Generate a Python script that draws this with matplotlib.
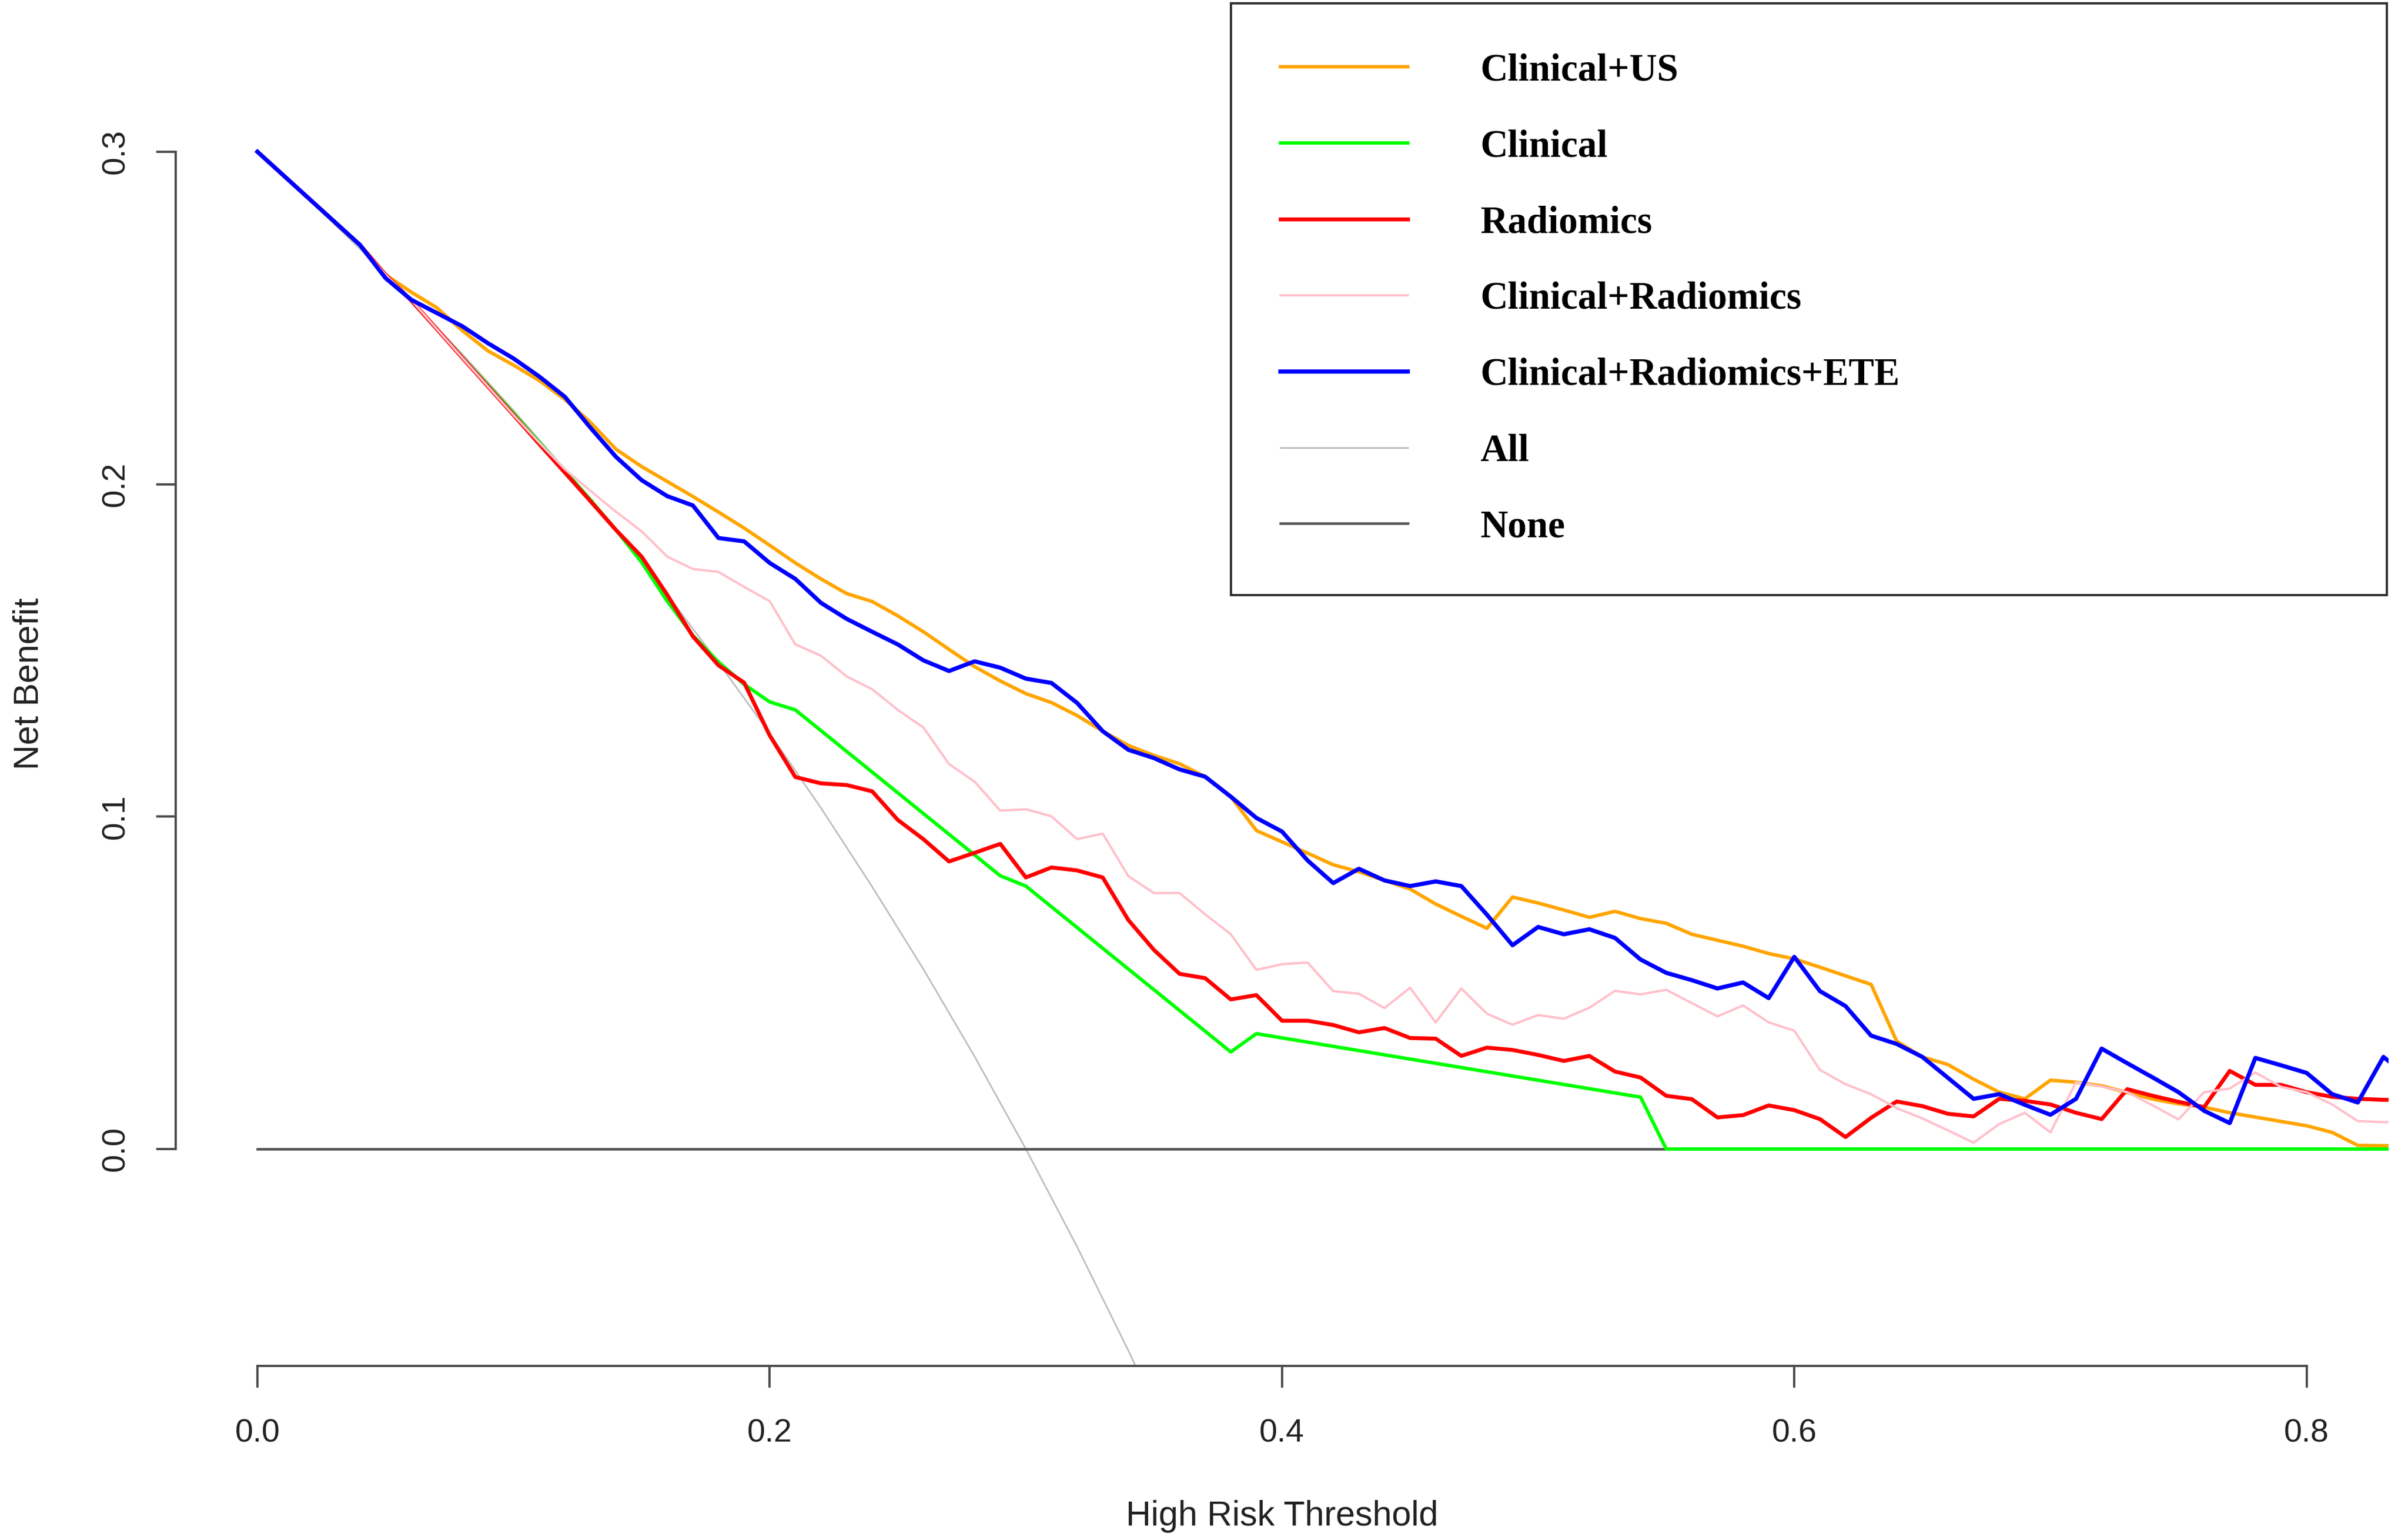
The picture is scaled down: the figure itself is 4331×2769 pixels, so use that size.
import numpy as np
import matplotlib
matplotlib.use("Agg")
import matplotlib.pyplot as plt
from matplotlib.ticker import FormatStrFormatter

"Decision curve analysis, net benefit vs high risk threshold"

plt.rcParams['font.family'] = ['Liberation Sans', 'DejaVu Sans']

# threshold grid used by the model curves (step 0.01)
thresholds = np.round(np.arange(0, 0.845, 0.01), 2)

nb_clin_us = [
    0.300, 0.293, 0.286, 0.279, 0.272, 0.263, 0.2578, 0.2531, 0.2462, 0.2401,
    0.2358, 0.2312, 0.2255, 0.2186, 0.2105, 0.2053, 0.2008, 0.1963, 0.1916, 0.1868,
    0.1816, 0.1763, 0.1715, 0.1671, 0.1647, 0.1604, 0.1556, 0.1503, 0.1451, 0.1408,
    0.1370, 0.1343, 0.1304, 0.1257, 0.1214, 0.1184, 0.1159, 0.1120, 0.1060, 0.0958,
    0.0924, 0.0890, 0.0855, 0.0834, 0.0808, 0.0782, 0.0737, 0.0700, 0.0664, 0.0758,
    0.0740, 0.0719, 0.0697, 0.0715, 0.0693, 0.0679, 0.0646, 0.0628, 0.0610, 0.0588,
    0.0572, 0.0547, 0.0521, 0.0495, 0.0324, 0.0277, 0.0254, 0.0210, 0.0171, 0.0151,
    0.0207, 0.0201, 0.0190, 0.0170, 0.0150, 0.0136, 0.0126, 0.0109, 0.0096, 0.0083,
    0.0070, 0.0050, 0.0011, 0.0010, 0.0010]

nb_radiomics = [
    0.300, 0.293, 0.286, 0.279, 0.272, 0.263, 0.2553, 0.2467, 0.2380, 0.2294,
    0.2208, 0.2121, 0.2035, 0.1949, 0.1862, 0.1782, 0.1667, 0.1542, 0.1455, 0.1403,
    0.1244, 0.1119, 0.1100, 0.1095, 0.1076, 0.0990, 0.0932, 0.0865, 0.0891, 0.0918,
    0.0817, 0.0847, 0.0838, 0.0817, 0.0689, 0.0599, 0.0527, 0.0514, 0.0450, 0.0463,
    0.0386, 0.0386, 0.0373, 0.0351, 0.0364, 0.0334, 0.0332, 0.0280, 0.0305, 0.0298,
    0.0283, 0.0265, 0.0280, 0.0233, 0.0215, 0.0160, 0.0150, 0.0095, 0.0102, 0.0131,
    0.0117, 0.0090, 0.0036, 0.0094, 0.0143, 0.0129, 0.0106, 0.0098, 0.0151, 0.0145,
    0.0134, 0.0109, 0.0090, 0.0180, 0.0160, 0.0142, 0.0126, 0.0235, 0.0193, 0.0193,
    0.0171, 0.0157, 0.0151, 0.0148, 0.0148]

nb_clin_rad = [
    0.300, 0.293, 0.286, 0.279, 0.272, 0.263, 0.2555, 0.2467, 0.2380, 0.2294,
    0.2208, 0.2125, 0.2045, 0.1980, 0.1917, 0.1858, 0.1782, 0.1745, 0.1736, 0.1691,
    0.1648, 0.1518, 0.1484, 0.1422, 0.1383, 0.1321, 0.1268, 0.1158, 0.1105, 0.1018,
    0.1022, 0.1001, 0.0932, 0.0949, 0.0821, 0.0770, 0.0770, 0.0706, 0.0646, 0.0539,
    0.0556, 0.0561, 0.0475, 0.0467, 0.0424, 0.0485, 0.0381, 0.0483, 0.0407, 0.0374,
    0.0403, 0.0392, 0.0425, 0.0476, 0.0465, 0.0479, 0.0439, 0.0399, 0.0432, 0.0381,
    0.0356, 0.0238, 0.0195, 0.0165, 0.0123, 0.0092, 0.0056, 0.0019, 0.0075, 0.0109,
    0.0050, 0.0201, 0.0188, 0.0171, 0.0131, 0.0089, 0.0171, 0.0182, 0.0230, 0.0187,
    0.0171, 0.0134, 0.0084, 0.0081, 0.0080]

nb_clin_rad_ete = [
    0.300, 0.293, 0.286, 0.279, 0.272, 0.262, 0.2555, 0.2515, 0.2475, 0.2424,
    0.2378, 0.2324, 0.2263, 0.2170, 0.2082, 0.2012, 0.1964, 0.1936, 0.1838, 0.1828,
    0.1763, 0.1715, 0.1643, 0.1595, 0.1556, 0.1518, 0.1470, 0.1438, 0.1467, 0.1448,
    0.1415, 0.1402, 0.1342, 0.1257, 0.1201, 0.1176, 0.1142, 0.1120, 0.1060, 0.0996,
    0.0955, 0.0868, 0.0800, 0.0843, 0.0808, 0.0791, 0.0805, 0.0791, 0.0705, 0.0613,
    0.0668, 0.0646, 0.0661, 0.0635, 0.0570, 0.0530, 0.0508, 0.0483, 0.0501, 0.0454,
    0.0578, 0.0475, 0.0430, 0.0341, 0.0316, 0.0277, 0.0214, 0.0151, 0.0165, 0.0133,
    0.0103, 0.0151, 0.0302, 0.0258, 0.0215, 0.0171, 0.0115, 0.0078, 0.0274, 0.0252,
    0.0229, 0.0165, 0.0140, 0.0277, 0.0216]

# clinical model: only the kinks of the polyline
clin_thr = [0.00, 0.01, 0.02, 0.03, 0.04, 0.05, 0.06, 0.07, 0.08, 0.09, 0.10,
            0.11, 0.12, 0.13, 0.14, 0.15, 0.16, 0.17, 0.18, 0.19, 0.20, 0.21,
            0.29, 0.30, 0.38, 0.39, 0.54, 0.55, 0.84]
nb_clin = [0.300, 0.293, 0.286, 0.279, 0.272, 0.263, 0.2553, 0.2467, 0.2382, 0.2298, 0.2213,
           0.2126, 0.2040, 0.1953, 0.1862, 0.1765, 0.1648, 0.1545, 0.1465, 0.1398, 0.1345, 0.1321,
           0.0822, 0.0791, 0.0292, 0.0347, 0.0156, 0.0, 0.0]

# treat all / treat none reference curves
all_thr = [0.00, 0.02, 0.04, 0.06, 0.08, 0.10, 0.12, 0.14, 0.16, 0.18,
           0.20, 0.22, 0.24, 0.26, 0.28, 0.30, 0.32, 0.34, 0.36]
nb_all = [0.300, 0.2857, 0.2708, 0.2553, 0.2391, 0.2222, 0.2045, 0.1860, 0.1667, 0.1463,
          0.1250, 0.1026, 0.0789, 0.0541, 0.0278, 0.0, -0.0294, -0.0606, -0.0938]
none_thr = [0.00, 0.84]
nb_none = [0.0, 0.0]

labels = ['Clinical+US', 'Clinical', 'Radiomics', 'Clinical+Radiomics',
          'Clinical+Radiomics+ETE', 'All', 'None']

fig = plt.figure(figsize=(4331 / 300, 2769 / 300), dpi=300)
ax = fig.add_axes([0.07287, 0.11315, 0.91905, 0.88587])

l_all, = ax.plot(all_thr, nb_all, color='#bebebe', lw=0.7, zorder=1)
l_none, = ax.plot(none_thr, nb_none, color='#555555', lw=1.1, zorder=2)
l_us, = ax.plot(thresholds, nb_clin_us, color='orange', lw=1.5, zorder=3)
l_clin, = ax.plot(clin_thr, nb_clin, color='#00ff00', lw=1.5, zorder=4)
l_rad, = ax.plot(thresholds, nb_radiomics, color='red', lw=1.7, zorder=5)
l_cr, = ax.plot(thresholds, nb_clin_rad, color='pink', lw=1.0, zorder=6)
l_ete, = ax.plot(thresholds, nb_clin_rad_ete, color='blue', lw=1.8, zorder=7)

ax.set_xlim(-0.032, 0.832)
ax.set_ylim(-0.0652, 0.3452)

# R style axes: only tick range drawn, no box
for side in ['top', 'right']:
    ax.spines[side].set_visible(False)
ax.spines['left'].set_bounds(0, 0.3)
ax.spines['bottom'].set_bounds(0, 0.8)
for side in ['left', 'bottom']:
    ax.spines[side].set_color('#4d4d4d')
    ax.spines[side].set_linewidth(1.0)

ax.set_xticks([0.0, 0.2, 0.4, 0.6, 0.8])
ax.set_yticks([0.0, 0.1, 0.2, 0.3])
ax.xaxis.set_major_formatter(FormatStrFormatter('%.1f'))
ax.yaxis.set_major_formatter(FormatStrFormatter('%.1f'))
ax.tick_params(axis='x', direction='out', length=9.3, width=1.0, color='#4d4d4d',
               labelcolor='#222222', labelsize=14, pad=13.5)
ax.tick_params(axis='y', direction='out', length=8.4, width=1.0, color='#4d4d4d',
               labelcolor='#222222', labelsize=14, pad=10.8)
for lbl in ax.get_yticklabels():
    lbl.set_rotation(90)
    lbl.set_va('center')

ax.set_xlabel('High Risk Threshold', fontsize=15, color='#222222', va='baseline')
ax.xaxis.set_label_coords(0.5, -0.1171)
ax.set_ylabel('Net Benefit', fontsize=15, color='#222222', va='center', ha='center')
ax.yaxis.set_label_coords(-0.0661, 0.5)

leg = ax.legend([l_us, l_clin, l_rad, l_cr, l_ete, l_all, l_none], labels,
                loc='upper left', bbox_to_anchor=(0.4769, 0.9987, 0.5223, 0.0),
                mode='expand', prop={'family': 'Liberation Serif', 'weight': 'bold', 'size': 16.5},
                handlelength=3.33, handletextpad=1.9, borderpad=1.3, labelspacing=1.06,
                borderaxespad=0, fancybox=False, framealpha=1)
leg.get_frame().set_edgecolor('#333333')
leg.get_frame().set_linewidth(1.0)
leg.set_zorder(10)

fig.savefig('out.png', dpi=300)
